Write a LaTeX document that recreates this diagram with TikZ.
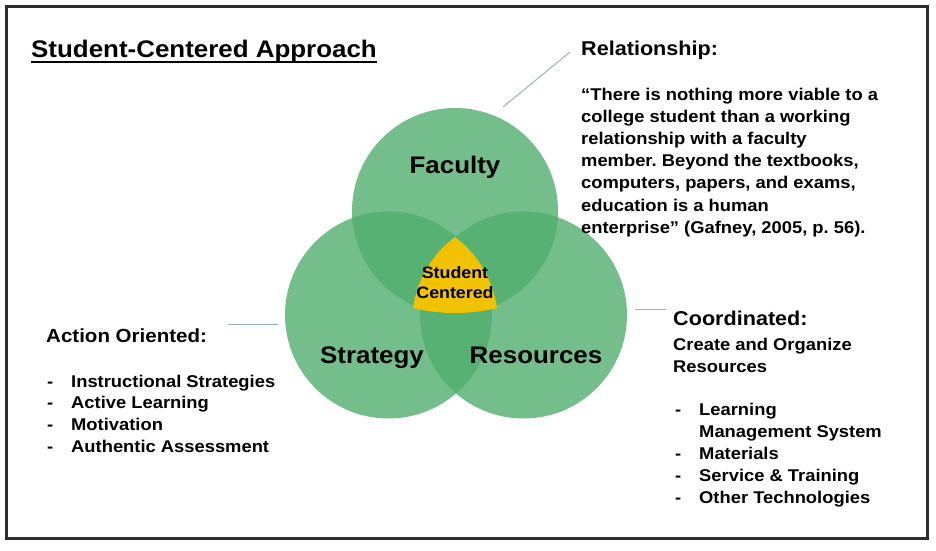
\documentclass[tikz,border=0pt]{standalone}
\usepackage{fontspec}
\setmainfont[FakeStretch=1.08]{Liberation Sans}
\usetikzlibrary{calc}
\definecolor{vgreen}{RGB}{80,174,110}
\definecolor{vyellow}{RGB}{240,194,0}
\definecolor{conn}{RGB}{155,176,202}
\definecolor{framec}{RGB}{45,45,45}
\begin{document}
\frenchspacing
\begin{tikzpicture}[x=1pt,y=-1pt,
  txt/.style={inner sep=0pt, anchor=base west, font=\bfseries\fontsize{17}{20}\selectfont},
  headtxt/.style={inner sep=0pt, anchor=base west, font=\bfseries\fontsize{20}{24}\selectfont},
  bigtxt/.style={inner sep=0pt, anchor=base, font=\bfseries\fontsize{24}{28}\selectfont},
  midtxt/.style={inner sep=0pt, anchor=base, font=\bfseries\fontsize{16.5}{20}\selectfont},
  venn/.style={fill=vgreen, fill opacity=0.8},
  connline/.style={draw=conn, line width=1pt}]
\useasboundingbox (0,0) rectangle (936,550);
\fill[white] (0,0) rectangle (936,550);
\draw[framec, line width=2.5pt] (6.5,6.5) rectangle (927.5,538.5);
% circles
\coordinate (cF) at (455,211);
\coordinate (cS) at (388.5,315);
\coordinate (cR) at (523.5,315);
\fill[venn] (cF) circle[radius=103];
\fill[venn] (cS) circle[radius=103.5];
\fill[venn] (cR) circle[radius=103.5];
% student-centered core
\coordinate (yT) at (455,237);
\coordinate (yL) at (413,308);
\coordinate (yR) at (497,308);
\fill[vyellow] (yT) .. controls (432,254) and (417,280) .. (yL)
  .. controls (441,314.7) and (469,314.7) .. (yR)
  .. controls (493,280) and (478,254) .. (yT) -- cycle;
% title
\node[inner sep=0pt, anchor=base west, font=\bfseries\fontsize{24}{28}\selectfont] (title) at (31,57) {Student-Centered Approach};
\draw[line width=2pt] ($(title.base west)+(0,5)$) -- ($(title.base east)+(0,5)$);
% circle labels
\node[bigtxt] (fac) at (455,173) {Faculty};
\node[bigtxt] (str) at (372,363) {Strategy};
\node[bigtxt] (res) at (536,363) {Resources};
\node[midtxt] (stu1) at (455,278) {Student};
\node[midtxt] (stu2) at (455,298) {Centered};
% relationship
\node[headtxt] (rel) at (581,55) {Relationship:};
\node[txt] (q1) at (581,100) {“There is nothing more viable to a};
\node[txt] (q2) at (581,122.2) {college student than a working};
\node[txt] (q3) at (581,144.4) {relationship with a faculty};
\node[txt] (q4) at (581,166.6) {member. Beyond the textbooks,};
\node[txt] (q5) at (581,188.8) {computers, papers, and exams,};
\node[txt] (q6) at (581,211) {education is a human};
\node[txt] (q7) at (581,233.2) {enterprise” (Gafney, 2005, p. 56).};
% action oriented
\node[headtxt, font=\bfseries\fontsize{19}{23}\selectfont] (act) at (46,342) {Action Oriented:};
\node[txt] (ad1) at (47,387) {-};
\node[txt] (a1) at (71,387) {Instructional Strategies};
\node[txt] (ad2) at (47,408.7) {-};
\node[txt] (a2) at (71,408.7) {Active Learning};
\node[txt] (ad3) at (47,430.4) {-};
\node[txt] (a3) at (71,430.4) {Motivation};
\node[txt] (ad4) at (47,452) {-};
\node[txt] (a4) at (71,452) {Authentic Assessment};
% coordinated
\node[headtxt] (coo) at (673,325) {Coordinated:};
\node[txt] (co1) at (673,350) {Create and Organize};
\node[txt] (co2) at (673,372) {Resources};
\node[txt] (cd1) at (675,415) {-};
\node[txt] (c1) at (699,415) {Learning};
\node[txt] (c1b) at (699,437) {Management System};
\node[txt] (cd2) at (675,459) {-};
\node[txt] (c2) at (699,459) {Materials};
\node[txt] (cd3) at (675,481) {-};
\node[txt] (c3) at (699,481) {Service \& Training};
\node[txt] (cd4) at (675,503) {-};
\node[txt] (c4) at (699,503) {Other Technologies};
% connectors
\coordinate (relA) at (503,107);
\coordinate (relB) at (570,52);
\coordinate (actA) at (228,324);
\coordinate (actB) at (278,324);
\coordinate (cooA) at (635,309);
\coordinate (cooB) at (666,309);
\draw[connline] (relA) -- (relB);
\draw[connline] (actA) -- (actB);
\draw[connline] (cooA) -- (cooB);
\end{tikzpicture}
\end{document}
